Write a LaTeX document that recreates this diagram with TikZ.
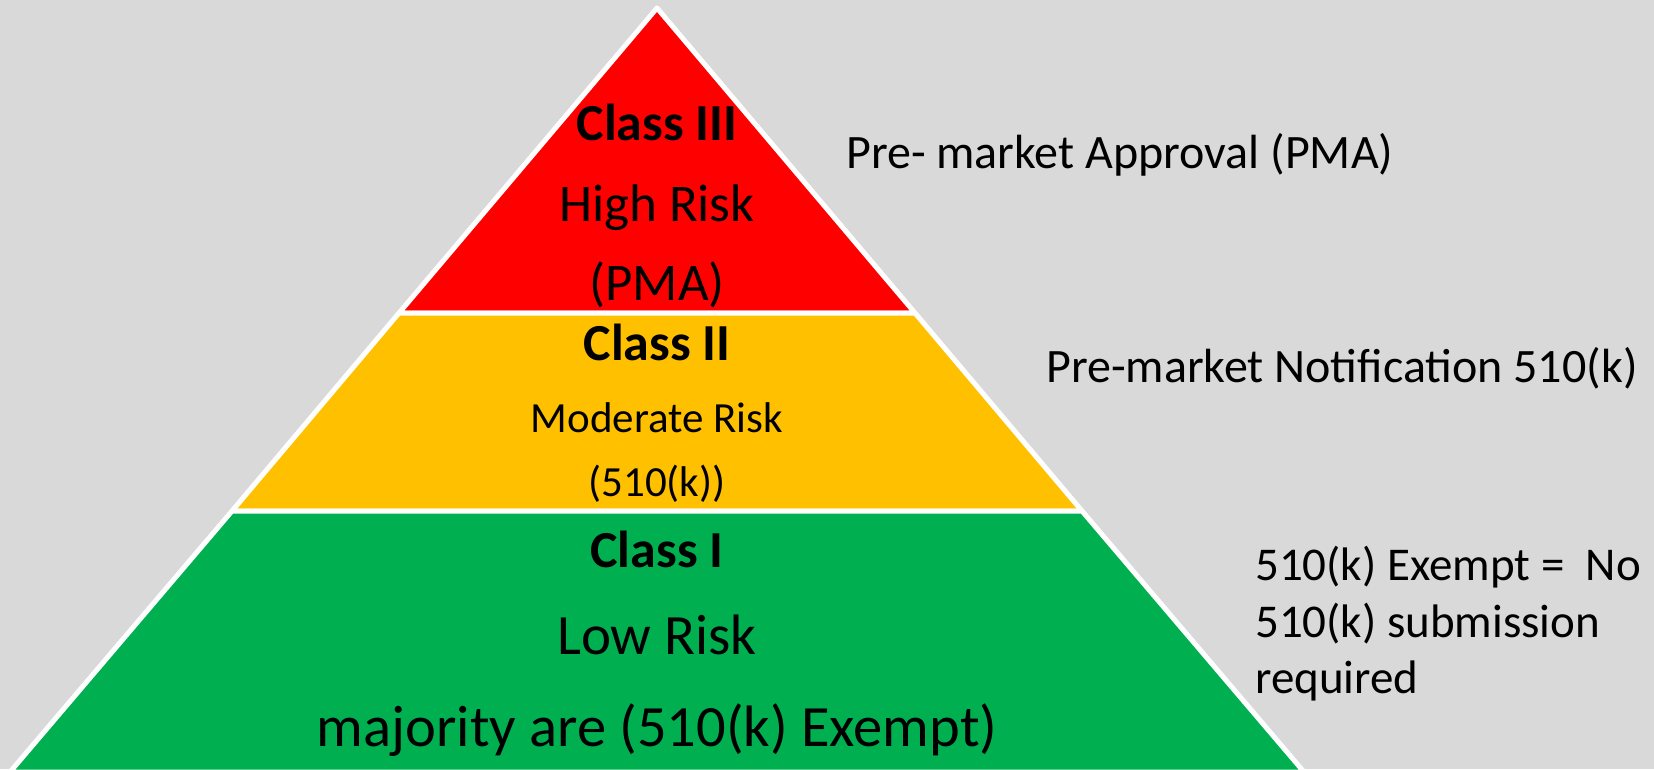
\documentclass[tikz,border=0pt]{standalone}
\usepackage{fontspec}
\setmainfont{Carlito}
\usetikzlibrary{positioning}

\definecolor{bggray}{HTML}{D9D9D9}
\definecolor{riskred}{HTML}{FF0000}
\definecolor{riskamber}{HTML}{FFC000}
\definecolor{riskgreen}{HTML}{00B050}

\begin{document}
\begin{tikzpicture}[x=1pt, y=-1pt,
  band/.style = {draw=white, line width=5pt, line join=round},
  cls/.style = {font=\fontsize{52}{60}\selectfont\bfseries, anchor=base, inner sep=0pt},
  risk/.style = {font=\fontsize{53}{60}\selectfont, anchor=base, inner sep=0pt},
  note/.style = {font=\fontsize{48}{57}\selectfont, anchor=base west, inner sep=0pt}]

\fill[bggray] (0,0) rectangle (1654,769);
\useasboundingbox (0,0) rectangle (1654,769);
\clip (0,0) rectangle (1654,769);

% corners of the pyramid bands
\coordinate (apex) at (657,8);
\coordinate (l1) at (399,313);
\coordinate (r1) at (915,313);
\coordinate (l2) at (232,511);
\coordinate (r2) at (1082,511);
\coordinate (l3) at (10,772);
\coordinate (r3) at (1304,772);

\draw[band, fill=riskred] (apex) -- (r1) -- (l1) -- cycle;
\draw[band, fill=riskamber] (l1) -- (r1) -- (r2) -- (l2) -- cycle;
\draw[band, fill=riskgreen] (l2) -- (r2) -- (r3) -- (l3) -- cycle;

% class III
\node[cls] (c3) at (657,140) {Class III};
\node[risk] (c3risk) at (657,221) {High Risk};
\node[risk] (c3path) at (657,300) {(PMA)};

% class II
\node[cls] (c2) at (657,360) {Class II};
\node[risk, font=\fontsize{43}{50}\selectfont] (c2risk) at (657,432) {Moderate Risk};
\node[risk, font=\fontsize{43}{50}\selectfont] (c2path) at (657,496) {(510(k))};

% class I
\node[cls] (c1) at (657,567) {Class I};
\node[risk, font=\fontsize{57}{64}\selectfont] (c1risk) at (657,654) {Low Risk};
\node[risk, font=\fontsize{58.5}{66}\selectfont] (c1path) at (657,746) {majority are (510(k) Exempt)};

% submission routes
\node[note] (pma) at (846,168) {Pre- market Approval (PMA)};
\node[note] (notif) at (1046,382) {Pre-market Notification 510(k)};
\node[note, font=\fontsize{47}{57}\selectfont] (ex1) at (1255,580) {510(k) Exempt =\ \ No};
\node[note, font=\fontsize{47}{57}\selectfont] (ex2) at (1255,637) {510(k) submission};
\node[note, font=\fontsize{47}{57}\selectfont] (ex3) at (1255,693) {required};
\end{tikzpicture}
\end{document}
